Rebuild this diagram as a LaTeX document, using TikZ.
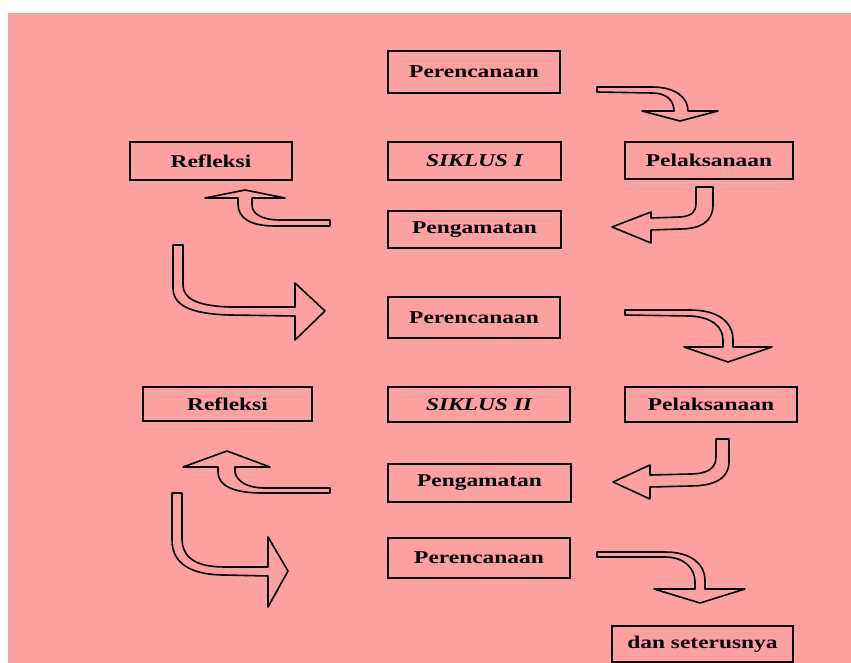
\documentclass[tikz,border=0pt]{standalone}
\usepackage{fontspec}
\setmainfont{Liberation Serif}[FakeStretch=1.3,
    BoldFont={Liberation Serif Bold},
    BoldItalicFont={Liberation Serif Bold Italic}]
\usepackage{tikz}
\usetikzlibrary{positioning}
\definecolor{bg}{RGB}{253,160,160}

\begin{document}
\begin{tikzpicture}[x=1pt, y=-1pt,
    box/.style={draw, line width=1.8pt, inner sep=0pt, font=\fontsize{18}{20}\selectfont\bfseries},
    cycle/.style={box, font=\fontsize{18}{20}\selectfont\bfseries\itshape},
    hollow/.style={draw, line width=1.6pt, fill=bg, line join=round}]
    \useasboundingbox (0,0) rectangle (851,663);
    \fill[white] (0,0) rectangle (851,663);
    \fill[bg] (8,13) rectangle (851,663);

    % siklus I
    \node[box, minimum width=172, minimum height=42] (Per1) at (474,72) {Perencanaan};
    \node[cycle, minimum width=173, minimum height=38] (Sik1) at (474.5,161) {SIKLUS I};
    \node[box, minimum width=173, minimum height=37] (Pen1) at (474.5,229.5) {Pengamatan};
    \node[box, minimum width=162, minimum height=38] (Ref1) at (211,161) {Refleksi};
    \node[box, minimum width=168, minimum height=37] (Pel1) at (709,160.5) {Pelaksanaan};

    % siklus II
    \node[box, minimum width=172, minimum height=41] (Per2) at (474,317.5) {Perencanaan};
    \node[cycle, minimum width=182, minimum height=35] (Sik2) at (479,404.5) {SIKLUS II};
    \node[box, minimum width=183, minimum height=38] (Pen2) at (479.5,483) {Pengamatan};
    \node[box, minimum width=169, minimum height=34] (Ref2) at (227.5,404) {Refleksi};
    \node[box, minimum width=172, minimum height=35] (Pel2) at (711,404.5) {Pelaksanaan};

    \node[box, minimum width=182, minimum height=40] (Per3) at (479,558) {Perencanaan};
    \node[box, minimum width=181, minimum height=36] (Dan) at (702.5,644) {dan seterusnya};

    % hollow bent arrows
    \draw[hollow] (597,87) -- (652,87) .. controls (675,87) and (688,97) .. (688,111)
        -- (718,111) -- (680,121) -- (642,111) -- (674,111)
        .. controls (674,100) and (666,93) .. (652,93) -- (597,92) -- cycle;
    \draw[hollow] (696,187) -- (713,187) -- (713,205) .. controls (713,222) and (700,229) .. (680,229) -- (651,230)
        -- (651,243) -- (612,227) -- (651,212) -- (651,218) -- (680,217)
        .. controls (692,216) and (696,212) .. (696,203) -- cycle;
    \draw[hollow] (330,220) -- (330,226) -- (275,226) .. controls (250,226) and (238,218) .. (238,204) -- (238,198)
        -- (205,198) -- (245,190) -- (285,198) -- (252,198) -- (252,205)
        .. controls (252,214) and (262,220) .. (280,220) -- cycle;
    \draw[hollow] (173,245) -- (183,245) -- (183,285) .. controls (183,298) and (196,306) .. (230,307) -- (295,307)
        -- (295,283) -- (325,311) -- (295,340) -- (295,316) -- (230,315)
        .. controls (190,314) and (173,305) .. (173,288) -- cycle;
    \draw[hollow] (625,310) -- (690,310) .. controls (718,310) and (733,322) .. (733,340) -- (733,347)
        -- (772,347) -- (728,362) -- (684,347) -- (723,347) -- (723,340)
        .. controls (723,327) and (712,317) .. (690,316) -- (625,315) -- cycle;
    \draw[hollow] (716,439) -- (729,439) -- (729,462) .. controls (729,478) and (715,486) .. (690,486) -- (650,487)
        -- (650,499) -- (613,482) -- (650,465) -- (650,475) -- (690,474)
        .. controls (708,474) and (716,468) .. (716,457) -- cycle;
    \draw[hollow] (330,488) -- (330,493) -- (262,493) .. controls (232,493) and (218,485) .. (218,472) -- (218,467)
        -- (183,467) -- (227,451) -- (270,467) -- (235,467) -- (235,472)
        .. controls (237,482) and (248,488) .. (265,488) -- cycle;
    \draw[hollow] (172,493) -- (182,493) -- (182,538) .. controls (182,558) and (196,567) .. (225,567) -- (268,567)
        -- (268,537) -- (288,571) -- (268,607) -- (268,576) -- (225,575)
        .. controls (190,575) and (172,563) .. (172,540) -- cycle;
    \draw[hollow] (597,552) -- (665,552) .. controls (692,552) and (705,565) .. (705,580) -- (705,589)
        -- (745,589) -- (700,603) -- (654,589) -- (695,589) -- (695,582)
        .. controls (695,569) and (685,557) .. (665,557) -- (597,557) -- cycle;
\end{tikzpicture}
\end{document}
